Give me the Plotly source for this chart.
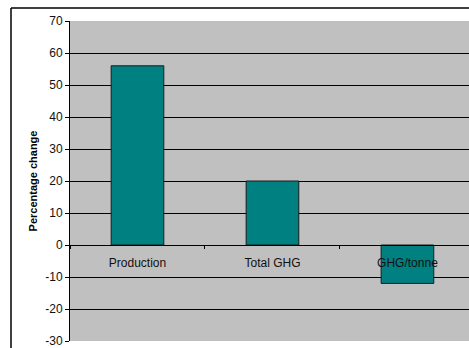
import plotly.graph_objects as go

categories = ["Production", "Total GHG", "GHG/tonne"]
values = [56, 20, -12]
y_ticks = [-30, -20, -10, 0, 10, 20, 30, 40, 50, 60, 70]
y_tick_labels = ["-30", "-20", "-10", "0", "10", "20", "30", "40", "50", "60", "70"]

W, H = 469, 348
ML, MT, MR, MB = 70, 21, 0, 5
PW, PH = W - ML - MR, H - MT - MB

FONT = "Arial, Liberation Sans, sans-serif"

fig = go.Figure(go.Bar(
    x=categories, y=values,
    marker=dict(color="#008080", line=dict(color="#1a1a1a", width=1)),
    width=0.39,
))

def px_x(p):
    return (p - ML) / PW

def px_y(p):
    return 1 - (p - MT) / PH

fig.update_layout(
    width=W, height=H,
    margin=dict(l=ML, r=MR, t=MT, b=MB),
    paper_bgcolor="white",
    plot_bgcolor="#C0C0C0",
    showlegend=False,
    font=dict(family=FONT, size=12, color="black"),
    xaxis=dict(
        range=[-0.5, 2.456],
        anchor="free", position=0.3,
        showline=True, linecolor="black", linewidth=1,
        ticks="outside", tickson="boundaries", ticklen=3, tickcolor="black",
        showgrid=False, zeroline=False,
        ticklabelstandoff=7,
        tickfont=dict(family=FONT, size=12, color="#111"),
    ),
    yaxis=dict(
        range=[-30, 70],
        tickvals=y_ticks,
        ticktext=y_tick_labels,
        showline=True, linecolor="black", linewidth=1,
        ticks="outside", ticklen=4, tickcolor="black",
        showgrid=True, gridcolor="black", gridwidth=1,
        zeroline=False,
        ticklabeloverflow="allow",
        tickfont=dict(family=FONT, size=12, color="#111"),
        title=dict(text="<b>Percentage change</b>", font=dict(family=FONT, size=11, color="black"), standoff=5),
    ),
    shapes=[
        dict(type="line", xref="paper", yref="paper",
             x0=px_x(11), x1=px_x(11), y0=px_y(8), y1=px_y(360),
             line=dict(color="black", width=1.5)),
        dict(type="line", xref="paper", yref="paper",
             x0=px_x(11), x1=px_x(480), y0=px_y(8), y1=px_y(8),
             line=dict(color="black", width=1.5)),
    ],
)

fig.write_html("out.html")
